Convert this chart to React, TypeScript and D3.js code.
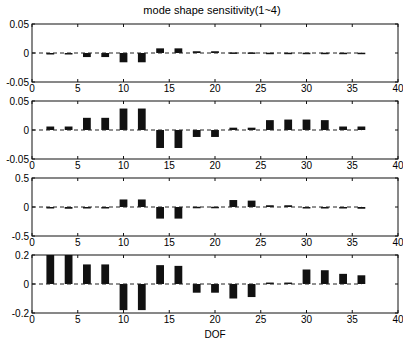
import React, { useEffect, useRef } from 'react';
import * as d3 from 'd3';

const dof = [2, 4, 6, 8, 10, 12, 14, 16, 18, 20, 22, 24, 26, 28, 30, 32, 34, 36];

const mode1 = [-0.001, -0.002, -0.007, -0.007, -0.016, -0.016, 0.008, 0.008, 0.003, 0.003, 0.001, 0.001, 0.0005, 0.0005, 0.0005, 0.0005, 0.0005, 0.0005];
const mode2 = [0.006, 0.006, 0.021, 0.021, 0.037, 0.037, -0.031, -0.031, -0.012, -0.012, 0.004, 0.004, 0.017, 0.018, 0.018, 0.017, 0.006, 0.006];
const mode3 = [-0.02, -0.03, -0.004, -0.004, 0.13, 0.13, -0.2, -0.2, 0.004, 0.004, 0.12, 0.11, 0.03, 0.03, -0.02, -0.02, -0.02, -0.03];
const mode4 = [0.2, 0.2, 0.135, 0.135, -0.18, -0.18, 0.13, 0.125, -0.06, -0.06, -0.1, -0.09, 0.01, 0.01, 0.1, 0.095, 0.07, 0.06];

const yLimits = [0.05, 0.05, 0.5, 0.2];
const yTickLabels = [
  ['0.05', '0', '-0.05'],
  ['0.05', '0', '-0.05'],
  ['0.5', '0', '-0.5'],
  ['0.2', '0', '-0.2'],
];
const xTicks = [0, 5, 10, 15, 20, 25, 30, 35, 40];
const title = 'mode shape sensitivity(1~4)';
const xLabel = 'DOF';

const App = () => {
  const svgRef = useRef<SVGSVGElement>(null);

  useEffect(() => {
    const svg = d3.select(svgRef.current);
    svg.selectAll('*').remove();

    const left = 32;
    const right = 398;
    const panelTops = [24, 101, 178, 255];
    const panelH = 58;
    const font = 'Liberation Sans, Arial, sans-serif';
    const series = [mode1, mode2, mode3, mode4];

    const x = d3.scaleLinear().domain([0, 40]).range([left, right]);
    const barW = x(0.85) - x(0);

    svg.append('text')
      .attr('x', 212)
      .attr('y', 14)
      .attr('text-anchor', 'middle')
      .attr('font-family', font)
      .attr('font-size', 11)
      .text(title);

    series.forEach((vals, k) => {
      const top = panelTops[k];
      const lim = yLimits[k];
      const y = d3.scaleLinear().domain([-lim, lim]).range([top + panelH, top]);
      const g = svg.append('g');

      // bars
      vals.forEach((v, i) => {
        const y0 = y(0);
        const y1 = y(v);
        g.append('rect')
          .attr('x', x(dof[i]) - barW / 2)
          .attr('y', Math.min(y0, y1))
          .attr('width', barW)
          .attr('height', Math.max(1.5, Math.abs(y1 - y0)))
          .attr('fill', '#111');
      });

      // dashed baseline
      g.append('line')
        .attr('x1', x(0)).attr('x2', x(36))
        .attr('y1', y(0)).attr('y2', y(0))
        .attr('stroke', '#222')
        .attr('stroke-width', 1)
        .attr('stroke-dasharray', '4,3');

      // box
      g.append('rect')
        .attr('x', left).attr('y', top)
        .attr('width', right - left).attr('height', panelH)
        .attr('fill', 'none')
        .attr('stroke', '#111')
        .attr('stroke-width', 1);

      // x ticks
      xTicks.forEach(t => {
        g.append('line').attr('x1', x(t)).attr('x2', x(t))
          .attr('y1', top).attr('y2', top + 3).attr('stroke', '#111');
        g.append('line').attr('x1', x(t)).attr('x2', x(t))
          .attr('y1', top + panelH).attr('y2', top + panelH - 3).attr('stroke', '#111');
        g.append('text')
          .attr('x', x(t))
          .attr('y', top + panelH + 10)
          .attr('text-anchor', 'middle')
          .attr('font-family', font)
          .attr('font-size', 10)
          .text(String(t));
      });

      // y ticks
      [lim, 0, -lim].forEach((t, j) => {
        g.append('line').attr('x1', left).attr('x2', left + 3)
          .attr('y1', y(t)).attr('y2', y(t)).attr('stroke', '#111');
        g.append('line').attr('x1', right).attr('x2', right - 3)
          .attr('y1', y(t)).attr('y2', y(t)).attr('stroke', '#111');
        g.append('text')
          .attr('x', left - 3)
          .attr('y', y(t) + 3.5)
          .attr('text-anchor', 'end')
          .attr('font-family', font)
          .attr('font-size', 10)
          .text(yTickLabels[k][j]);
      });
    });

    svg.append('text')
      .attr('x', (left + right) / 2)
      .attr('y', 338)
      .attr('text-anchor', 'middle')
      .attr('font-family', font)
      .attr('font-size', 10)
      .text(xLabel);
  }, []);

  return (
    <svg
      ref={svgRef}
      width={403}
      height={343}
      style={{ position: 'absolute', left: 0, top: 0, background: '#fff', display: 'block' }}
    />
  );
};

export default App;
